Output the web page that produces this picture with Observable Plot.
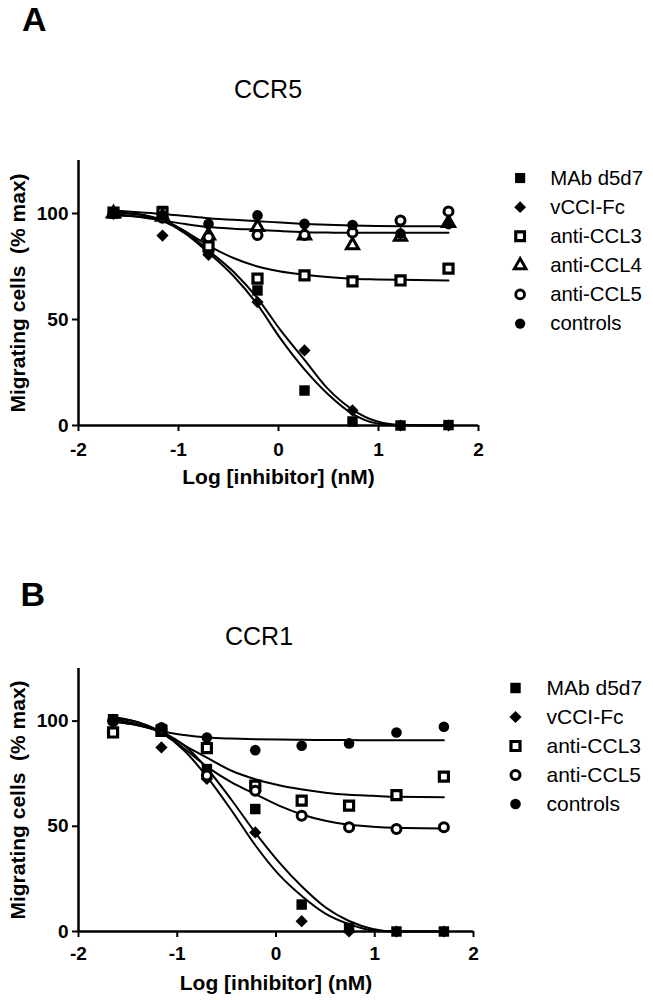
<!DOCTYPE html>
<html><head><meta charset="utf-8">
<script src="https://cdn.jsdelivr.net/npm/d3@7"></script>
<script src="https://cdn.jsdelivr.net/npm/@observablehq/plot@0.6"></script>
<style>
body{margin:0;background:#fff;}
#root{position:relative;width:653px;height:1000px;overflow:hidden;font-family:"Liberation Sans",Arial,sans-serif;color:#000;background:#fff;}
#root > div{position:absolute;}
.letter{font-weight:bold;font-size:34px;line-height:1.1;}
.title{font-size:25px;line-height:1;}
</style></head><body><div id="root"></div>
<script>
// ---------- data ----------
const doses = [-1.65, -1.16, -0.70, -0.21, 0.26, 0.74, 1.22, 1.70];
const xTicks = [-2, -1, 0, 1, 2];
const yTicks = [0, 50, 100];
const xLabel = "Log [inhibitor] (nM)";
const yLabel = "Migrating cells  (% max)";

// Panel A: CCR5
const ccr5_mab  = [100.6, 101.2, 82.5, 63.7, 16.5, 1.9, 0, 0.2];
const ccr5_vcci = [99.8, 89.6, 80.5, 58.2, 35.4, 7.1, 0, 0];
const ccr5_ccl3 = [100.4, 100.5, 84.5, 69.3, 70.8, 68.0, 68.4, 74.0];
const ccr5_ccl4 = [100.0, 98.5, 89.6, 93.6, 89.6, 85.0, 89.0, 95.5];
const ccr5_ccl5 = [100.2, 98.0, 88.8, 89.8, 89.9, 91.0, 96.7, 101.0];
const ccr5_ctrl = [100.5, 99.0, 95.1, 99.1, 95.1, 94.6, 90.5, 95.0];

const ccr5_fitX      = [-1.65, -1.4, -1.16, -0.93, -0.70, -0.45, -0.21, 0.02, 0.26, 0.49, 0.74, 0.98, 1.22, 1.70];
const ccr5_fit_mab   = [100.5, 99.5, 96.5, 90.5, 81.5, 70.5, 57.0, 41.0, 26.5, 15.0, 5.5, 1.0, 0, 0];
const ccr5_fit_vcci  = [100.5, 99.7, 97.0, 91.5, 82.5, 72.5, 60.0, 45.0, 31.0, 17.5, 7.5, 2.0, 0.3, 0];
const ccr5_fit_ccl3  = [99.0, 98.5, 96.7, 91.5, 84.9, 79.0, 75.0, 72.6, 71.1, 70.0, 69.2, 68.9, 68.7, 68.4];
const ccr5_fit_ccl45 = [99.8, 98.5, 96.7, 95.0, 93.6, 92.8, 92.3, 91.7, 91.2, 91.0, 90.9, 90.9, 90.9, 90.9];
const ccr5_fit_ctrl  = [101.4, 100.6, 99.8, 98.8, 97.8, 97.0, 96.4, 95.7, 95.1, 94.7, 94.3, 94.1, 94.0, 94.0];

// Panel B: CCR1
const ccr1_mab  = [100.9, 96.2, 77.2, 58.2, 12.8, 1.7, 0, 0];
const ccr1_vcci = [100.0, 87.5, 72.5, 47.1, 4.9, 0, 0, 0];
const ccr1_ccl3 = [94.6, 95.4, 87.2, 69.3, 62.2, 59.8, 64.8, 73.6];
const ccr1_ccl5 = [100.0, 96.0, 74.1, 66.9, 55.0, 49.5, 48.7, 49.5];
const ccr1_ctrl = [101.0, 97.0, 92.2, 86.2, 88.3, 89.4, 94.6, 97.3];

const ccr1_fitX     = [-1.65, -1.4, -1.16, -0.93, -0.69, -0.45, -0.21, 0.03, 0.27, 0.50, 0.74, 0.98, 1.22, 1.70];
const ccr1_fit_vcci = [102.0, 99.5, 94.5, 86.0, 73.0, 57.5, 41.0, 27.0, 16.5, 8.5, 3.5, 0.5, 0, 0];
const ccr1_fit_mab  = [101.5, 99.5, 95.0, 88.5, 77.0, 62.5, 47.0, 33.0, 21.0, 11.5, 5.0, 1.2, 0, 0];
const ccr1_fit_ccl3 = [99.8, 98.0, 94.6, 88.5, 82.4, 76.4, 72.4, 69.5, 67.5, 66.0, 65.0, 64.5, 64.0, 63.8];
const ccr1_fit_ccl5 = [99.8, 98.0, 94.6, 87.0, 78.0, 70.9, 65.3, 59.8, 55.5, 52.6, 50.7, 49.8, 49.3, 49.0];
const ccr1_fit_ctrl = [101.0, 98.5, 95.2, 93.4, 92.2, 91.7, 91.4, 91.2, 91.1, 91.0, 91.0, 90.9, 90.9, 90.9];

// ---------- styles ----------
const FONT = '"Liberation Sans", Arial, sans-serif';
const seriesStyle = {
  "MAb d5d7":  {symbol: "square",   fill: "black", stroke: "none",  strokeWidth: 0,   r: 5.9},
  "vCCI-Fc":   {symbol: "diamond2", fill: "black", stroke: "none",  strokeWidth: 0,   r: 5.5},
  "anti-CCL3": {symbol: "square",   fill: "white", stroke: "black", strokeWidth: 3.2, r: 5.1},
  "anti-CCL4": {symbol: "triangle", fill: "white", stroke: "black", strokeWidth: 3,   r: 4.5},
  "anti-CCL5": {symbol: "circle",   fill: "white", stroke: "black", strokeWidth: 3,   r: 4.5},
  "controls":  {symbol: "circle",   fill: "black", stroke: "none",  strokeWidth: 0,   r: 5.3}
};

const zip = (xs, ys) => xs.map((x, i) => ({x, y: ys[i]}));

function panel({series, fits, height, marginTop, marginBottom, marginRight, xPad, xLabelDy}) {
  return Plot.plot({
    width: 653, height, marginLeft: 78, marginRight, marginTop, marginBottom,
    x: {domain: [-2, 2], axis: null},
    y: {domain: [0, 125], axis: null},
    style: {fontFamily: FONT, fontSize: "19px", fontWeight: "bold", color: "black", background: "transparent", overflow: "visible"},
    marks: [
      Plot.axisX({ticks: xTicks, label: null, tickSize: 6, tickPadding: xPad, tickFormat: d => String(d), strokeWidth: 2, fontSize: 19, fontWeight: "bold"}),
      Plot.axisY({ticks: yTicks, label: null, tickSize: 6, tickPadding: 4, tickFormat: d => String(d), strokeWidth: 2, fontSize: 19, fontWeight: "bold"}),
      Plot.ruleY([0], {strokeWidth: 2.5}),
      Plot.ruleX([-2], {strokeWidth: 2.5}),
      ...fits.map(([xs, ys]) => Plot.line(zip(xs, ys), {x: "x", y: "y", curve: "monotone-x", strokeWidth: 2, stroke: "black"})),
      ...series.map(([name, ys]) => {
        const s = seriesStyle[name];
        return Plot.dot(zip(doses, ys), {x: "x", y: "y", symbol: s.symbol, r: s.r, fill: s.fill, stroke: s.stroke, strokeWidth: s.strokeWidth});
      }),
      Plot.text([xLabel], {frameAnchor: "bottom", dy: xLabelDy, text: d => d, textAnchor: "middle", lineAnchor: "middle", fontSize: 21, fontWeight: "bold"}),
      Plot.text([yLabel], {frameAnchor: "left", dx: -60, rotate: -90, text: d => d, textAnchor: "middle", lineAnchor: "middle", fontSize: 21, fontWeight: "bold"})
    ]
  });
}

function legend(names, rowH) {
  const rows = names.map(name => ({name}));
  return Plot.plot({
    width: 150, height: rowH * names.length, margin: 0,
    x: {domain: [0, 1], range: [12, 150], axis: null},
    y: {type: "band", domain: names, padding: 0, axis: null},
    style: {fontFamily: FONT, fontSize: "21px", color: "black", background: "transparent", overflow: "visible"},
    marks: [
      ...names.map(name => {
        const s = seriesStyle[name];
        return Plot.dot([{name}], {x: () => 0, y: "name", symbol: s.symbol, r: s.r, fill: s.fill, stroke: s.stroke, strokeWidth: s.strokeWidth});
      }),
      Plot.text(rows, {x: () => 0, y: "name", text: "name", dx: 31, textAnchor: "start", lineAnchor: "middle", fontSize: 21})
    ]
  });
}

const root = document.getElementById("root");
function place(node, left, top) {
  const d = document.createElement("div");
  d.style.left = left + "px"; d.style.top = top + "px";
  d.appendChild(node);
  root.appendChild(d);
  return d;
}
function label(text, cls, left, top) {
  const d = document.createElement("div");
  d.className = cls; d.textContent = text;
  d.style.left = left + "px"; d.style.top = top + "px";
  root.appendChild(d);
}

const namesA = ["MAb d5d7", "vCCI-Fc", "anti-CCL3", "anti-CCL4", "anti-CCL5", "controls"];
const namesB = ["MAb d5d7", "vCCI-Fc", "anti-CCL3", "anti-CCL5", "controls"];

place(panel({
  series: [["MAb d5d7", ccr5_mab], ["vCCI-Fc", ccr5_vcci], ["anti-CCL3", ccr5_ccl3], ["anti-CCL4", ccr5_ccl4], ["anti-CCL5", ccr5_ccl5], ["controls", ccr5_ctrl]],
  fits: [[ccr5_fitX, ccr5_fit_ctrl], [ccr5_fitX, ccr5_fit_ccl45], [ccr5_fitX, ccr5_fit_ccl3], [ccr5_fitX, ccr5_fit_mab], [ccr5_fitX, ccr5_fit_vcci]],
  height: 510, marginTop: 160, marginBottom: 85, marginRight: 175, xPad: 11, xLabelDy: 52
}), 0, 0);

place(panel({
  series: [["MAb d5d7", ccr1_mab], ["vCCI-Fc", ccr1_vcci], ["anti-CCL3", ccr1_ccl3], ["anti-CCL5", ccr1_ccl5], ["controls", ccr1_ctrl]],
  fits: [[ccr1_fitX, ccr1_fit_ctrl], [ccr1_fitX, ccr1_fit_ccl3], [ccr1_fitX, ccr1_fit_ccl5], [ccr1_fitX, ccr1_fit_vcci], [ccr1_fitX, ccr1_fit_mab]],
  height: 490, marginTop: 158, marginBottom: 69, marginRight: 180, xPad: 9, xLabelDy: 52
}), 0, 510);

place(legend(namesA, 30), 507.5, 163);
place(legend(namesB, 29.5), 503, 672);

label("A", "letter", 22, 1);
label("CCR5", "title", 234, 77);
label("B", "letter", 20.5, 576);
label("CCR1", "title", 225, 624);
</script></body></html>
